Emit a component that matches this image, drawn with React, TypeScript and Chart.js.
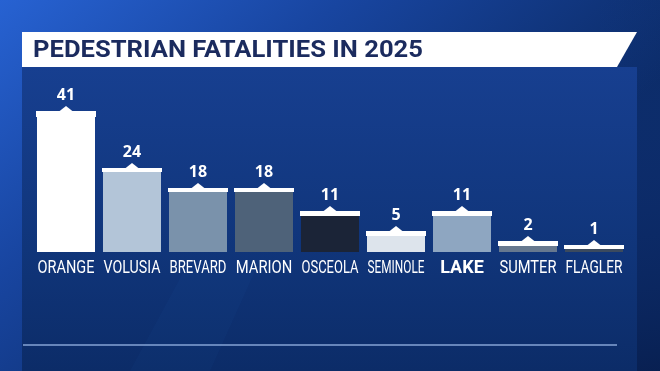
import React, { useEffect, useRef } from "react";
import { Chart, registerables } from "chart.js";

Chart.register(...registerables);

const TITLE = "PEDESTRIAN FATALITIES IN 2025";
const counties = ["ORANGE", "VOLUSIA", "BREVARD", "MARION", "OSCEOLA", "SEMINOLE", "LAKE", "SUMTER", "FLAGLER"];
const fatalities = [41, 24, 18, 18, 11, 5, 11, 2, 1];
const barColors = ["#ffffff", "#b3c5d8", "#7a92ab", "#4e6279", "#1b2437", "#dde4ec", "#8ea6c1", "#66788f", "#3b4a5e"];
const boldLabels = ["LAKE"];

const W = 660;
const H = 371;

const decor = {
  id: "decor",
  beforeDraw(chart: any) {
    const { ctx } = chart;
    ctx.save();
    const g = ctx.createLinearGradient(0, 0, W * 0.45, H);
    g.addColorStop(0, "#2762d2");
    g.addColorStop(0.45, "#1845a0");
    g.addColorStop(1, "#0b2a64");
    ctx.fillStyle = g;
    ctx.fillRect(0, 0, W, H);
    const rg = ctx.createLinearGradient(600, 0, 660, H);
    rg.addColorStop(0, "rgba(30,80,190,0)");
    rg.addColorStop(1, "rgba(5,20,60,0.45)");
    ctx.fillStyle = rg;
    ctx.fillRect(600, 0, 60, H);
    // panel
    const pg = ctx.createLinearGradient(0, 67, 0, H);
    pg.addColorStop(0, "#173f90");
    pg.addColorStop(0.6, "#10357a");
    pg.addColorStop(1, "#0c2c68");
    ctx.fillStyle = pg;
    ctx.fillRect(22, 67, 615, H - 67);
    // subtle diagonal light band
    ctx.fillStyle = "rgba(60,120,220,0.04)";
    ctx.beginPath();
    ctx.moveTo(130, 371);
    ctx.lineTo(190, 260);
    ctx.lineTo(260, 260);
    ctx.lineTo(210, 371);
    ctx.closePath();
    ctx.fill();
    // banner
    ctx.fillStyle = "#ffffff";
    ctx.beginPath();
    ctx.moveTo(22, 32);
    ctx.lineTo(637, 32);
    ctx.lineTo(617, 67);
    ctx.lineTo(22, 67);
    ctx.closePath();
    ctx.fill();
    // title text
    ctx.fillStyle = "#1b2b5e";
    ctx.font = "bold 24px Roboto";
    ctx.textBaseline = "alphabetic";
    ctx.textAlign = "left";
    const tw = ctx.measureText(TITLE).width;
    ctx.translate(33, 57);
    ctx.scale(390 / tw, 1);
    ctx.fillText(TITLE, 0, 0);
    ctx.restore();
    // bottom rule
    ctx.save();
    ctx.strokeStyle = "#86a4d6";
    ctx.lineWidth = 1.5;
    ctx.beginPath();
    ctx.moveTo(23, 345);
    ctx.lineTo(617, 345);
    ctx.stroke();
    ctx.restore();
  },
  afterDatasetsDraw(chart: any) {
    const { ctx } = chart;
    const meta = chart.getDatasetMeta(0);
    const xs = chart.scales.x;
    ctx.save();
    meta.data.forEach((bar: any, i: number) => {
      const { x, y, width } = bar.getProps(["x", "y", "width"], true);
      const left = Math.floor(x - width / 2);
      const right = Math.ceil(x + width / 2);
      const top = Math.round(y);
      const capBottom = Math.ceil(y) + (fatalities[i] > 30 ? 1 : 0);
      ctx.fillStyle = "#ffffff";
      ctx.fillRect(left, top - 4, right - left, capBottom - (top - 4));
      ctx.beginPath();
      ctx.moveTo(x - 7, top - 3.5);
      ctx.lineTo(x, top - 9);
      ctx.lineTo(x + 7, top - 3.5);
      ctx.closePath();
      ctx.fill();
      // value label
      ctx.font = "bold 16px 'Open Sans'";
      ctx.textAlign = "center";
      ctx.textBaseline = "alphabetic";
      ctx.fillText(String(fatalities[i]), x, top - 15);
      // category label
      const label = counties[i];
      const cx = xs.getPixelForValue(i);
      ctx.save();
      ctx.translate(cx, 273);
      if (boldLabels.includes(label)) {
        ctx.font = "bold 18px Roboto";
      } else {
        ctx.font = "18px Roboto";
        const m = ctx.measureText(label).width;
        const s = Math.min(0.82, 57 / m);
        ctx.scale(s, 1);
      }
      ctx.textAlign = "center";
      ctx.fillText(label, 0, 0);
      ctx.restore();
    });
    ctx.restore();
  },
};

export default function App() {
  const ref = useRef<HTMLCanvasElement | null>(null);
  useEffect(() => {
    document.body.style.margin = "0";
    const chart = new Chart(ref.current as HTMLCanvasElement, {
      type: "bar",
      data: {
        labels: counties,
        datasets: [
          {
            data: fatalities,
            backgroundColor: barColors,
            borderWidth: 0,
            barPercentage: 0.879,
            categoryPercentage: 1,
          },
        ],
      },
      options: {
        animation: false,
        responsive: false,
        devicePixelRatio: 1,
        layout: { padding: { top: 102, bottom: 119, left: 33, right: 33 } },
        plugins: { legend: { display: false }, tooltip: { enabled: false }, title: { display: false } },
        scales: {
          x: { display: false, grid: { display: false } },
          y: { display: false, min: 0, max: 45 },
        },
      },
      plugins: [decor],
    });
    return () => chart.destroy();
  }, []);
  return (
    <div style={{ width: W, height: H }}>
      <canvas ref={ref} width={W} height={H} style={{ display: "block" }} />
    </div>
  );
}
